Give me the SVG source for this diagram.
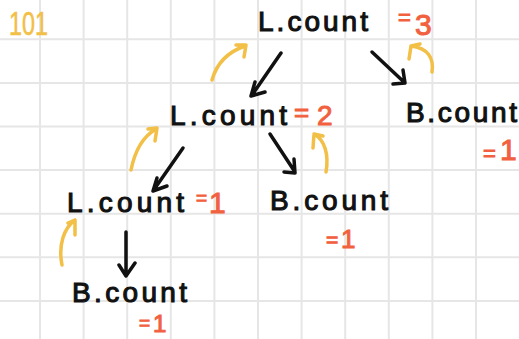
<svg xmlns="http://www.w3.org/2000/svg" width="519" height="339" viewBox="0 0 519 339">
<style>
.grid line{stroke:#e6e6e6;stroke-width:2}
.lbl{font-family:"Liberation Sans",Arial,sans-serif;font-size:28px;fill:#111;stroke:#111;stroke-width:1.1}
.val{font-family:"Liberation Sans",Arial,sans-serif;fill:#f2613f;stroke:#f2613f;stroke-width:1}
.num{font-family:"Liberation Sans",Arial,sans-serif;font-size:34px;fill:#f2bf47;stroke:#f2bf47;stroke-width:0.6}
.blk{fill:none;stroke:#111;stroke-width:3.5;stroke-linecap:round;stroke-linejoin:round}
.ylw{fill:none;stroke:#f2bf47;stroke-width:3.5;stroke-linecap:round;stroke-linejoin:round}
</style>
<rect width="519" height="339" fill="#ffffff"/>
<g class="grid">
<line x1="40" y1="0" x2="40" y2="339"/>
<line x1="83.6" y1="0" x2="83.6" y2="339"/>
<line x1="127.2" y1="0" x2="127.2" y2="339"/>
<line x1="170.8" y1="0" x2="170.8" y2="339"/>
<line x1="214.4" y1="0" x2="214.4" y2="339"/>
<line x1="258" y1="0" x2="258" y2="339"/>
<line x1="301.6" y1="0" x2="301.6" y2="339"/>
<line x1="345.2" y1="0" x2="345.2" y2="339"/>
<line x1="388.8" y1="0" x2="388.8" y2="339"/>
<line x1="432.4" y1="0" x2="432.4" y2="339"/>
<line x1="476" y1="0" x2="476" y2="339"/>
<line x1="0" y1="39.3" x2="519" y2="39.3"/>
<line x1="0" y1="82.9" x2="519" y2="82.9"/>
<line x1="0" y1="126.5" x2="519" y2="126.5"/>
<line x1="0" y1="170.1" x2="519" y2="170.1"/>
<line x1="0" y1="213.7" x2="519" y2="213.7"/>
<line x1="0" y1="257.3" x2="519" y2="257.3"/>
<line x1="0" y1="300.9" x2="519" y2="300.9"/>
</g>
<text class="num" x="9" y="35" textLength="39" lengthAdjust="spacingAndGlyphs">101</text>
<g id="connectors">
<path class="blk" d="M281,53 L252,95 M255,82 L251,96 L265,92"/>
<path class="blk" d="M372,52 L405,83 M403,70 L405,83 L393,84"/>
<path class="blk" d="M183,148 L153,191 M157,178 L153,191 L167,186"/>
<path class="blk" d="M270,134 L295,172 M294,159 L295,173 L284,172"/>
<path class="blk" d="M126,232 L126,276 M119,265 L126,276 L135,263"/>
<path class="ylw" d="M212,80 Q219,55 245,46 M236,45 L246,45 L244,57"/>
<path class="ylw" d="M432,72 C434,58 428,48 411,46 M411,46 L409,59 M411,46 L420,44"/>
<path class="ylw" d="M131,170 Q137,140 156,129 M148,129 L157,128 L155,141"/>
<path class="ylw" d="M326,172 C329,155 325,140 314,134 M314,134 L313,148 M314,134 L323,136"/>
<path class="ylw" d="M62,265 C58,245 64,228 75,220 M68,223 L75,220 L75,235"/>
</g>
<g id="node-root">
<text class="lbl" x="258" y="31" textLength="110" lengthAdjust="spacing">L.count</text>
<text class="val"><tspan x="398" y="25" font-size="22">=</tspan><tspan x="415" y="35" font-size="30">3</tspan></text>
</g>
<g id="node-l2">
<text class="lbl" x="170" y="125" textLength="117" lengthAdjust="spacing">L.count</text>
<text class="val"><tspan x="294" y="121" font-size="26">=</tspan><tspan x="317" y="125" font-size="28">2</tspan></text>
</g>
<g id="node-l3">
<text class="lbl" x="67" y="212" textLength="117" lengthAdjust="spacing">L.count</text>
<text class="val"><tspan x="196" y="204" font-size="19">=</tspan><tspan x="209" y="213" font-size="30">1</tspan></text>
</g>
<g id="node-b4">
<text class="lbl" x="72" y="302" textLength="115" lengthAdjust="spacing">B.count</text>
<text class="val"><tspan x="139" y="329" font-size="19">=</tspan><tspan x="153" y="332" font-size="24">1</tspan></text>
</g>
<g id="node-b5">
<text class="lbl" x="270" y="210" textLength="118" lengthAdjust="spacing">B.count</text>
<text class="val"><tspan x="326" y="247" font-size="21">=</tspan><tspan x="341" y="248" font-size="26">1</tspan></text>
</g>
<g id="node-b6">
<text class="lbl" x="406" y="122" textLength="111" lengthAdjust="spacing">B.count</text>
<text class="val"><tspan x="483" y="161" font-size="22">=</tspan><tspan x="500" y="160" font-size="30">1</tspan></text>
</g>
</svg>
